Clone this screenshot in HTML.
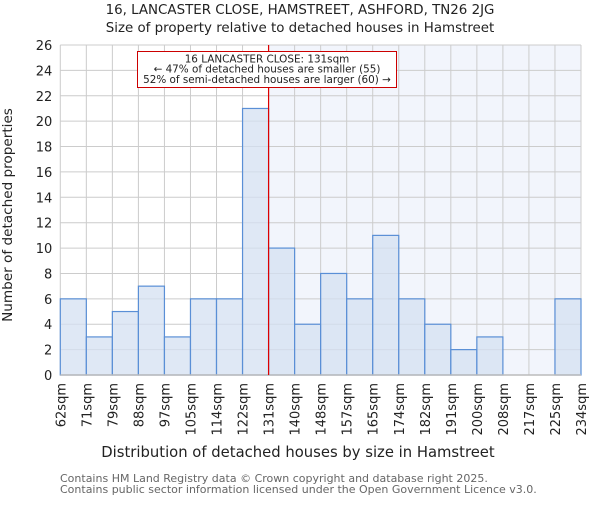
<!DOCTYPE html>
<html><head><meta charset="utf-8"><style>
body{margin:0;background:#fff}
svg text{font-family:"DejaVu Sans","Liberation Sans",sans-serif;fill:#222}
</style></head><body>
<svg id="c" width="600" height="500">
<text x="300" y="14" text-anchor="middle" font-size="13.4">16, LANCASTER CLOSE, HAMSTREET, ASHFORD, TN26 2JG</text>
<text x="300" y="32" text-anchor="middle" font-size="13.4">Size of property relative to detached houses in Hamstreet</text>
<g id="plot"></g>
<text x="298" y="457" text-anchor="middle" font-size="14.8">Distribution of detached houses by size in Hamstreet</text>
<text transform="translate(12,215) rotate(-90)" text-anchor="middle" font-size="13.6">Number of detached properties</text>
<text x="60" y="482" font-size="11" style="fill:#666">Contains HM Land Registry data © Crown copyright and database right 2025.</text>
<text x="60" y="493" font-size="11" style="fill:#666">Contains public sector information licensed under the Open Government Licence v3.0.</text>
</svg>
<script>
const categories=["62sqm","71sqm","79sqm","88sqm","97sqm","105sqm","114sqm","122sqm","131sqm","140sqm","148sqm","157sqm","165sqm","174sqm","182sqm","191sqm","200sqm","208sqm","217sqm","225sqm","234sqm"];
const counts=[6,3,5,7,3,6,6,21,10,4,8,6,11,6,4,2,3,0,0,6];
const yTicks=[0,2,4,6,8,10,12,14,16,18,20,22,24,26];
const markerIndex=8;
const X0=60.3,X1=581,Y0=375,Y1=45,YMAX=26;
const n=counts.length,bw=(X1-X0)/n;
const xs=i=>X0+i*bw, ys=v=>Y0-(v/YMAX)*(Y0-Y1);
const g=document.getElementById('plot'),NS='http://www.w3.org/2000/svg';
function mk(t,a){const e=document.createElementNS(NS,t);for(const k in a)e.setAttribute(k,a[k]);g.appendChild(e);return e;}
let e;
e=mk('rect',{x:xs(markerIndex),y:Y1,width:X1-xs(markerIndex),height:Y0-Y1,fill:'#f2f5fc'});


for(const t of yTicks){e=mk('line',{x1:X0,x2:X1,y1:ys(t),y2:ys(t),stroke:'#ccc','stroke-width':1});


e=mk('text',{x:X0-8,y:ys(t)+5,'text-anchor':'end','font-size':13});e.textContent=t;

}
for(let i=0;i<=n;i++){e=mk('line',{x1:xs(i),x2:xs(i),y1:Y1,y2:Y0,stroke:'#ccc','stroke-width':1});


e=mk('text',{transform:`translate(${xs(i)+5},383) rotate(-90)`,'text-anchor':'end','font-size':13});e.textContent=categories[i];

}
counts.forEach((v,i)=>{if(v<=0)return;e=mk('rect',{x:xs(i),y:ys(v),width:bw,height:Y0-ys(v),fill:'#d4e0f2','fill-opacity':0.75,stroke:'#5a8fd6','stroke-width':1.2});

});
e=mk('line',{x1:X0,x2:X1,y1:Y0,y2:Y0,stroke:'#bbb','stroke-width':1.5});


e=mk('line',{x1:xs(markerIndex),x2:xs(markerIndex),y1:Y1,y2:Y0,stroke:'#d00','stroke-width':1.2});


e=mk('rect',{x:137.5,y:51.5,width:259,height:36,fill:'#fff',stroke:'#c00','stroke-width':1});


const lines=["16 LANCASTER CLOSE: 131sqm","← 47% of detached houses are smaller (55)","52% of semi-detached houses are larger (60) →"];
lines.forEach((l,k)=>{e=mk('text',{x:267,y:62.5+k*10.2,'text-anchor':'middle','font-size':10.4});e.textContent=l;

});
</script>
</body></html>
